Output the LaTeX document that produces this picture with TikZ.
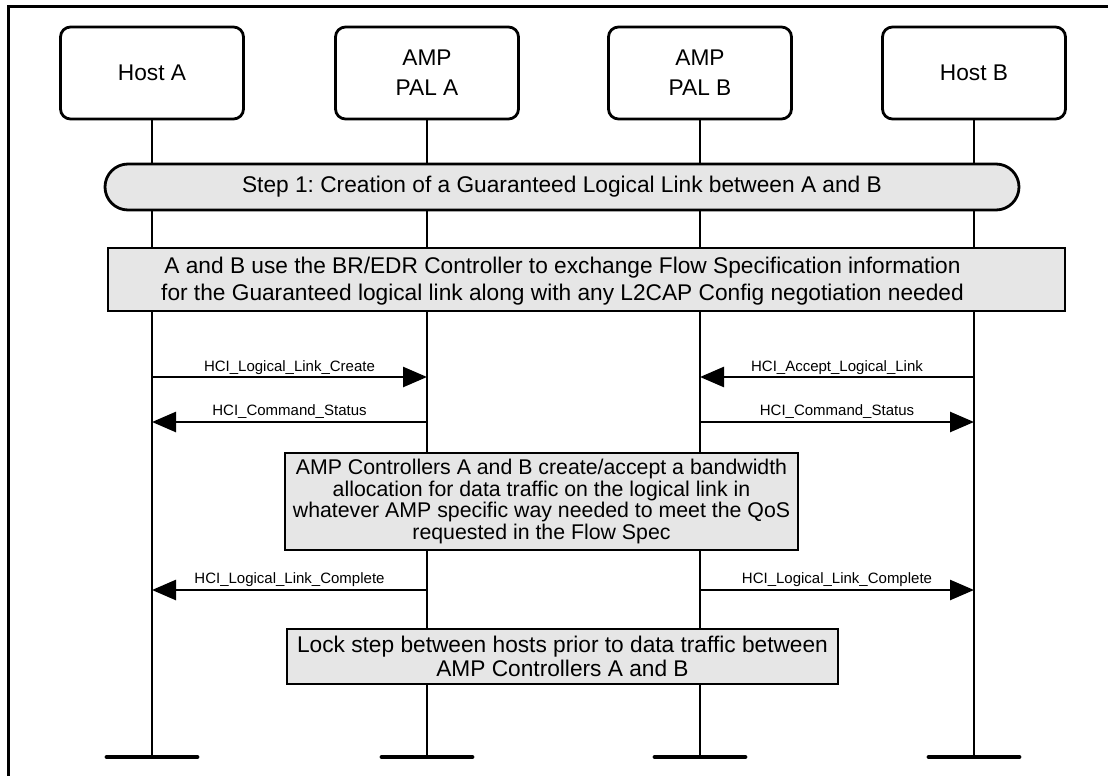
\documentclass[tikz,border=0pt]{standalone}
\usepackage{fontspec}
\setmainfont{Liberation Sans}
\usetikzlibrary{arrows.meta}
\definecolor{boxgray}{RGB}{230,230,230}
\frenchspacing

\begin{document}
\begin{tikzpicture}[x=1pt,y=-1pt,
  actor/.style={draw, line width=2.8pt, rounded corners=10pt, fill=white,
    minimum width=183pt, minimum height=92pt, align=center, inner sep=0pt,
    font=\fontsize{22.7}{30}\selectfont},
  life/.style={line width=2.6pt},
  endbar/.style={line width=4.8pt, line cap=round},
  graybox/.style={draw, line width=2.8pt, fill=boxgray, inner sep=0pt, align=center},
  bigtext/.style={font=\fontsize{22.7}{27}\selectfont, align=center, inner sep=0pt},
  msg/.style={line width=2.6pt, -{Triangle[length=24pt,width=20pt]}},
  msglabel/.style={font=\fontsize{15}{18}\selectfont, anchor=base, inner sep=0pt},
]
\useasboundingbox (0,0) rectangle (1109,776);

% frame
\draw[line width=3pt] (8,776) -- (8,7) -- (1108,7);

% actors
\node[actor] (hostA) at (152,73) {Host A};
\node[actor] (palA)  at (427,73) {AMP\\PAL A};
\node[actor] (palB)  at (700,73) {AMP\\PAL B};
\node[actor] (hostB) at (974,73) {Host B};

% lifeline ends
\coordinate (endA)  at (152,757);
\coordinate (endPA) at (427,757);
\coordinate (endPB) at (700,757);
\coordinate (endB)  at (974,757);

\draw[life] (hostA.south) -- (endA);
\draw[life] (palA.south)  -- (endPA);
\draw[life] (palB.south)  -- (endPB);
\draw[life] (hostB.south) -- (endB);

\foreach \e in {endA,endPA,endPB,endB}
  \draw[endbar] ([xshift=-45pt]\e) -- ([xshift=45pt]\e);

% step 1 pill
\node[graybox, rounded corners=23pt, minimum width=914pt, minimum height=46pt,
  font=\fontsize{22.7}{27}\selectfont] (step) at (562,187)
  {Step 1: Creation of a Guaranteed Logical Link between A and B};

% BR/EDR box
\node[graybox, minimum width=957pt, minimum height=63pt] (bredr) at (586.5,279.5) {};
\node[bigtext] (bredrtext) at (562.5,281)
  {A and B use the BR/EDR Controller to exchange Flow Specification information\\
   for the Guaranteed logical link along with any L2CAP Config negotiation needed};

% messages
\coordinate (a1)  at (152,377);
\coordinate (pa1) at (427,377);
\coordinate (pb1) at (700,377);
\coordinate (b1)  at (974,377);
\coordinate (a2)  at (152,422);
\coordinate (pa2) at (427,422);
\coordinate (pb2) at (700,422);
\coordinate (b2)  at (974,422);
\coordinate (a3)  at (152,590);
\coordinate (pa3) at (427,590);
\coordinate (pb3) at (700,590);
\coordinate (b3)  at (974,590);

\draw[msg] (a1) -- (pa1);
\node[msglabel] (l1) at (289.5,371) {HCI\_Logical\_Link\_Create};
\draw[msg] (b1) -- (pb1);
\node[msglabel] (l2) at (837,371) {HCI\_Accept\_Logical\_Link};
\draw[msg] (pa2) -- (a2);
\node[msglabel] (l3) at (289.5,415) {HCI\_Command\_Status};
\draw[msg] (pb2) -- (b2);
\node[msglabel] (l4) at (837,415) {HCI\_Command\_Status};

% AMP box
\node[graybox, minimum width=513pt, minimum height=97pt,
  font=\fontsize{21.3}{21.5}\selectfont] (amp) at (541.5,501.5)
  {AMP Controllers A and B create/accept a bandwidth\\
   allocation for data traffic on the logical link in\\
   whatever AMP specific way needed to meet the QoS\\
   requested in the Flow Spec};

\draw[msg] (pa3) -- (a3);
\node[msglabel] (l5) at (289.5,583) {HCI\_Logical\_Link\_Complete};
\draw[msg] (pb3) -- (b3);
\node[msglabel] (l6) at (837,583) {HCI\_Logical\_Link\_Complete};

% lock step box
\node[graybox, minimum width=551pt, minimum height=55pt,
  font=\fontsize{22.7}{24}\selectfont] (lock) at (562.5,656.5)
  {Lock step between hosts prior to data traffic between\\
   AMP Controllers A and B};
\end{tikzpicture}
\end{document}
